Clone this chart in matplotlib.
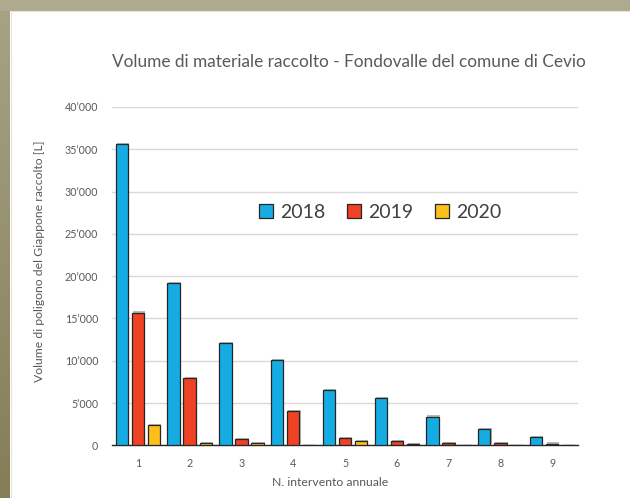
import numpy as np
import matplotlib
matplotlib.use("Agg")
import matplotlib.pyplot as plt
from matplotlib.patches import Rectangle
import matplotlib.patheffects as pe
from matplotlib.ticker import FuncFormatter

categories = ["1", "2", "3", "4", "5", "6", "7", "8", "9"]
series_names = ["2018", "2019", "2020"]
v2018 = [35600, 19200, 12100, 10100, 6500, 5600, 3400, 1900, 950]
v2019 = [15700, 7900, 700, 4050, 830, 500, 250, 220, 200]
v2020 = [2400, 300, 300, 80, 500, 100, 20, 20, 20]
colors = ["#14ACE2", "#EF4123", "#FDC01B"]

title = "Volume di materiale raccolto - Fondovalle del comune di Cevio"
xlabel = "N. intervento annuale"
ylabel = "Volume di poligono del Giappone raccolto [L]"

plt.rcParams['font.family'] = ['Lato', 'DejaVu Sans']
W, H = 630, 498
fig = plt.figure(figsize=(W/100, H/100), dpi=100)
fig.patch.set_facecolor("white")

# background frame
bg = fig.add_axes([0, 0, 1, 1], zorder=-10)
bg.set_xlim(0, W); bg.set_ylim(H, 0); bg.axis("off")
grad = np.linspace(0, 1, 200)[:, None]
c_top = np.array([168, 163, 134]) / 255
c_bot = np.array([132, 125, 88]) / 255
img = (c_top[None, None, :] * (1 - grad[..., None]) + c_bot[None, None, :] * grad[..., None])
bg.imshow(img, extent=[0, 10, H, 0], aspect="auto", interpolation="bilinear")
bg.add_patch(Rectangle((0, 0), W, 10.5, facecolor="#AEA98F", edgecolor="none"))
bg.plot([10.5, 10.5], [10.5, H], color="#E6E4DA", lw=0.8)
bg.plot([10.5, W], [10.5, 10.5], color="#E6E4DA", lw=0.8)

ax = fig.add_axes([112/W, 1 - 445.3/H, (578-112)/W, (445.3-107)/H])
x = np.arange(len(categories))
bw = 0.24
step = 0.31
data = [v2018, v2019, v2020]
shadow = [pe.SimplePatchShadow(offset=(0.8, 0.8), shadow_rgbFace="#888888", alpha=0.6), pe.Normal()]
handles = []
for i, (vals, c, n) in enumerate(zip(data, colors, series_names)):
    b = ax.bar(x + (i - 1) * step, vals, width=bw, color=c, edgecolor="#262626",
               linewidth=0.9, label=n, zorder=3)
    for p in b:
        p.set_path_effects(shadow)
    handles.append(b)

ax.set_xlim(-0.5, len(categories) - 0.5)
ax.set_ylim(0, 40000)
ax.set_yticks(np.arange(0, 40001, 5000))
ax.yaxis.set_major_formatter(FuncFormatter(lambda v, p: "0" if v == 0 else f"{int(v/1000)}\u2019000"))
ax.set_xticks(x)
ax.set_xticklabels(categories)
ax.grid(axis="y", color="#D9D9D9", linewidth=1.0, zorder=0)
ax.set_axisbelow(True)
for s in ["top", "right", "left"]:
    ax.spines[s].set_visible(False)
ax.spines["bottom"].set_color("#262626")
ax.spines["bottom"].set_linewidth(1.0)
ax.tick_params(axis="both", length=0, labelsize=7.7, colors="#595959")
ax.tick_params(axis="x", pad=9)
ax.tick_params(axis="y", pad=10)

ax.set_xlabel(xlabel, fontsize=8.8, color="#595959")
ax.xaxis.set_label_coords((330.5-112)/(578-112), -(476.7-445.3)/(445.3-107), transform=ax.transAxes)
ax.set_ylabel(ylabel, fontsize=8.8, color="#595959")
ax.yaxis.set_label_coords(-(112-45)/(578-112), (445.3-261)/(445.3-107))

fig.text(348.5/W, 1 - 62/H, title, ha="center", va="center", fontsize=12.45, color="#595959")

leg = ax.legend(handles=handles, loc="center", bbox_to_anchor=((380-112)/(578-112), (445.3-212)/(445.3-107)),
                ncol=3, frameon=False, fontsize=14, handlelength=0.75, handleheight=0.75,
                handletextpad=0.35, columnspacing=1.1, labelcolor="#404040")
for h in leg.legend_handles:
    h.set_path_effects([])

fig.savefig("out.png", dpi=100)
